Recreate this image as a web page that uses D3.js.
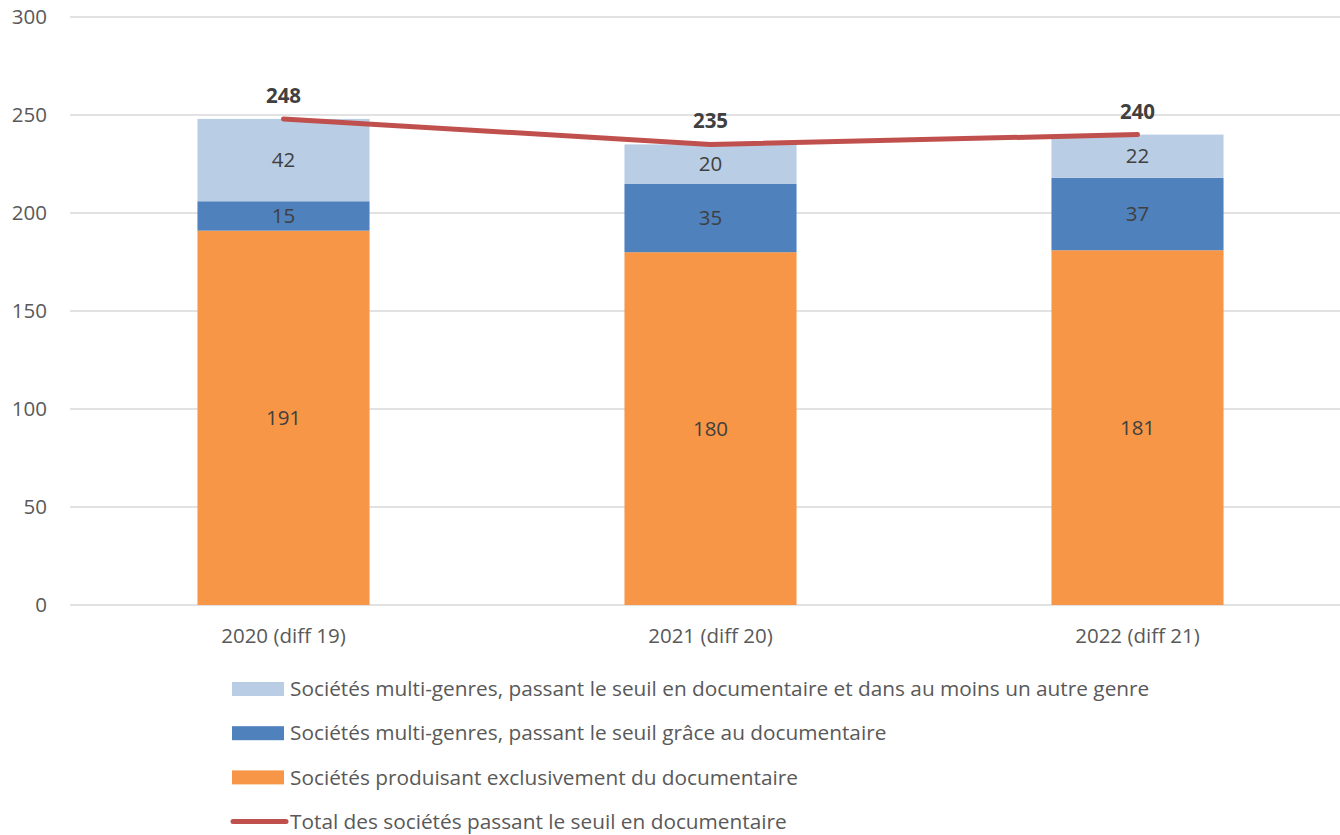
<!DOCTYPE html>
<html>
<head>
<meta charset="utf-8">
<script src="https://cdn.jsdelivr.net/npm/d3@7"></script>
<style>
  body { margin: 0; background: #fff; }
  svg { display: block; font-family: 'Open Sans', sans-serif; }
</style>
</head>
<body>
<div id="chart"></div>
<script>
var categories = ['2020 (diff 19)', '2021 (diff 20)', '2022 (diff 21)']
var exclusif = [191, 180, 181]
var graceDoc = [15, 35, 37]
var autreGenre = [42, 20, 22]
var totals = [248, 235, 240]
var yTicks = [0, 50, 100, 150, 200, 250, 300]

var seriesNames = [
  'Sociétés produisant exclusivement du documentaire',
  'Sociétés multi-genres, passant le seuil grâce au documentaire',
  'Sociétés multi-genres, passant le seuil en documentaire et dans au moins un autre genre'
]
var lineName = 'Total des sociétés passant le seuil en documentaire'
var colors = ['#F79646', '#4F81BD', '#B9CDE5']
var lineColor = '#C0504D'

var width = 1340
var height = 835
var fontSize = '20.5px'

var svg = d3.select('#chart').append('svg')
  .attr('width', width)
  .attr('height', height)

var x = d3.scaleBand()
  .domain(categories)
  .range([70, 1351])
  .paddingInner(0.597)
  .paddingOuter(0.2985)

var y = d3.scaleLinear()
  .domain([0, 300])
  .range([605, 17])

// gridlines
svg.append('g')
  .selectAll('line')
  .data(yTicks)
  .enter().append('line')
  .attr('x1', 70)
  .attr('x2', width)
  .attr('y1', function (d) { return y(d) })
  .attr('y2', function (d) { return y(d) })
  .attr('stroke', '#d9d9d9')
  .attr('stroke-width', 1.3)

// y axis labels
var yAxis = svg.append('g')
  .attr('transform', 'translate(47,0)')
  .call(d3.axisLeft(y).tickValues(yTicks).tickSize(0).tickPadding(0))
yAxis.select('.domain').remove()
yAxis.selectAll('text')
  .attr('fill', '#595959')
  .style('font-size', fontSize)
  .style('font-family', "'Open Sans', sans-serif")

// stacked data
var table = categories.map(function (c, i) {
  return { cat: c, s0: exclusif[i], s1: graceDoc[i], s2: autreGenre[i] }
})
var stack = d3.stack().keys(['s0', 's1', 's2'])(table)

var layers = svg.append('g')
  .selectAll('g')
  .data(stack)
  .enter().append('g')
  .attr('fill', function (d, i) { return colors[i] })

layers.selectAll('rect')
  .data(function (d) { return d })
  .enter().append('rect')
  .attr('x', function (d) { return x(d.data.cat) })
  .attr('width', x.bandwidth())
  .attr('y', function (d) { return y(d[1]) })
  .attr('height', function (d) { return y(d[0]) - y(d[1]) })

layers.selectAll('text')
  .data(function (d) { return d })
  .enter().append('text')
  .attr('x', function (d) { return x(d.data.cat) + x.bandwidth() / 2 })
  .attr('y', function (d) { return y((d[0] + d[1]) / 2) })
  .attr('dy', '0.35em')
  .attr('text-anchor', 'middle')
  .attr('fill', '#404040')
  .style('font-size', fontSize)
  .text(function (d) { return d[1] - d[0] })

// x axis labels
var xAxis = svg.append('g')
  .attr('transform', 'translate(0,605)')
  .call(d3.axisBottom(x).tickSize(0).tickPadding(23))
xAxis.select('.domain').remove()
xAxis.selectAll('text')
  .attr('fill', '#595959')
  .style('font-size', fontSize)
  .style('font-family', "'Open Sans', sans-serif")

// total line
var line = d3.line()
  .x(function (d, i) { return x(categories[i]) + x.bandwidth() / 2 })
  .y(function (d) { return y(d) })

svg.append('path')
  .datum(totals)
  .attr('d', line)
  .attr('fill', 'none')
  .attr('stroke', lineColor)
  .attr('stroke-width', 5)
  .attr('stroke-linecap', 'round')
  .attr('stroke-linejoin', 'round')

svg.append('g')
  .selectAll('text')
  .data(totals)
  .enter().append('text')
  .attr('x', function (d, i) { return x(categories[i]) + x.bandwidth() / 2 })
  .attr('y', function (d) { return y(d) - 16 })
  .attr('text-anchor', 'middle')
  .attr('fill', '#404040')
  .style('font-size', fontSize)
  .style('font-weight', 'bold')
  .text(function (d) { return d })

// legend
var legendItems = [
  { name: seriesNames[2], color: colors[2], type: 'rect' },
  { name: seriesNames[1], color: colors[1], type: 'rect' },
  { name: seriesNames[0], color: colors[0], type: 'rect' },
  { name: lineName, color: lineColor, type: 'line' }
]

var legend = svg.append('g')
  .selectAll('g')
  .data(legendItems)
  .enter().append('g')
  .attr('transform', function (d, i) { return 'translate(232,' + (689 + i * 44.2) + ')' })

legend.filter(function (d) { return d.type === 'rect' })
  .append('rect')
  .attr('x', 0)
  .attr('y', -7)
  .attr('width', 52)
  .attr('height', 14)
  .attr('fill', function (d) { return d.color })

legend.filter(function (d) { return d.type === 'line' })
  .append('line')
  .attr('x1', 1)
  .attr('x2', 54)
  .attr('y1', 0)
  .attr('y2', 0)
  .attr('stroke', function (d) { return d.color })
  .attr('stroke-width', 5)
  .attr('stroke-linecap', 'round')

legend.append('text')
  .attr('x', 58)
  .attr('y', 0)
  .attr('dy', '0.35em')
  .attr('fill', '#595959')
  .style('font-size', '20.8px')
  .text(function (d) { return d.name })
</script>
</body>
</html>
